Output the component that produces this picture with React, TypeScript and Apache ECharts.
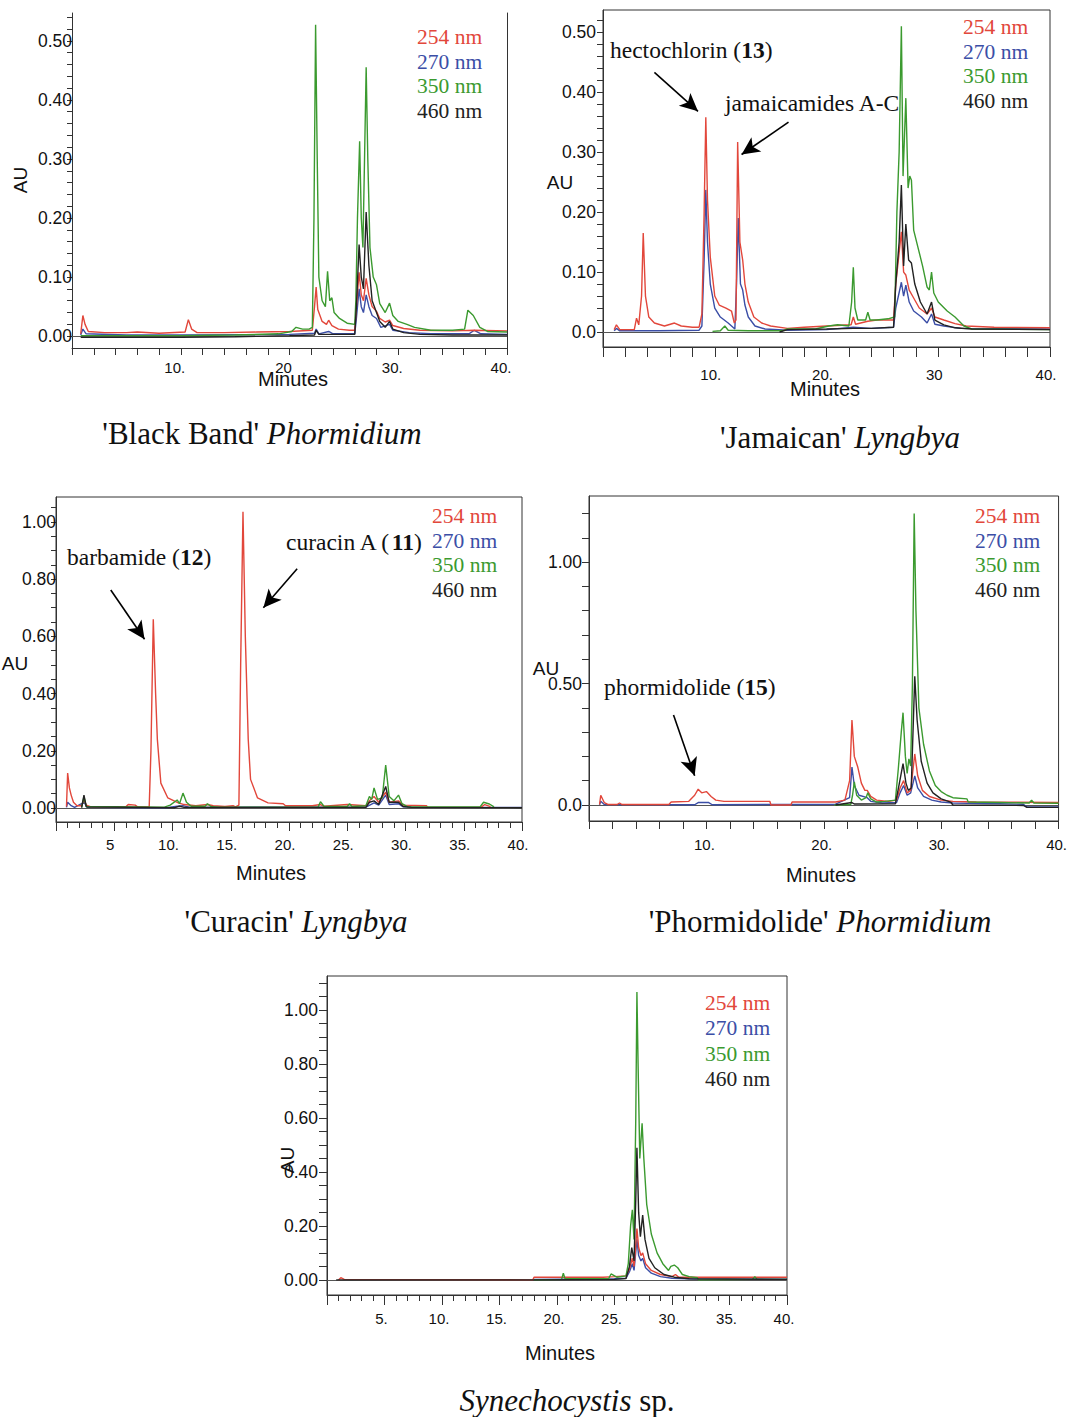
import React, { useEffect, useRef } from "react";
import * as echarts from "echarts";

// ---------- data (minutes, AU) ----------
const WAVELENGTHS = ["254 nm", "270 nm", "350 nm", "460 nm"];
const TRACE_COLORS = ["#e2473b", "#3b4ea6", "#3b9a2f", "#222222"];

// 'Black Band' Phormidium
const bb254 = [[0.8,0.004],[1.0,0.035],[1.2,0.02],[1.5,0.008],[3,0.006],[5,0.006],[6,0.007],[8,0.005],[10.4,0.007],[10.7,0.028],[11.0,0.012],[11.5,0.006],[14,0.006],[17,0.007],[20,0.008],[22.1,0.01],[22.3,0.05],[22.45,0.083],[22.6,0.045],[23,0.025],[23.4,0.02],[23.6,0.027],[23.9,0.018],[24.5,0.012],[25.5,0.01],[26.0,0.01],[26.15,0.05],[26.4,0.108],[26.6,0.07],[26.8,0.06],[27.05,0.098],[27.3,0.07],[27.6,0.05],[28.0,0.042],[28.3,0.03],[28.8,0.024],[29.2,0.027],[29.5,0.018],[30.5,0.013],[32,0.01],[35,0.009],[37,0.01],[40,0.009]];
const bb270 = [[0.8,0.002],[1.0,0.012],[1.3,0.004],[5,0.002],[10,0.002],[20,0.003],[22.3,0.005],[22.45,0.012],[22.7,0.004],[23.6,0.008],[24,0.004],[26.0,0.004],[26.15,0.03],[26.4,0.08],[26.6,0.05],[26.8,0.04],[27.05,0.07],[27.3,0.05],[27.6,0.035],[28.0,0.03],[28.4,0.015],[29.2,0.02],[29.5,0.01],[31,0.006],[33,0.004],[36.5,0.004],[37,0.01],[37.6,0.004],[40,0.003]];
const bb350 = [[0.8,0.001],[5,0.001],[10,0.001],[15,0.002],[19,0.004],[20.2,0.008],[20.6,0.015],[21.2,0.012],[21.8,0.012],[22.1,0.015],[22.25,0.2],[22.4,0.527],[22.55,0.3],[22.7,0.1],[23.0,0.06],[23.3,0.05],[23.5,0.11],[23.7,0.06],[23.9,0.065],[24.1,0.04],[24.6,0.03],[25.3,0.022],[26.0,0.02],[26.1,0.06],[26.25,0.2],[26.45,0.33],[26.6,0.2],[26.75,0.15],[26.9,0.3],[27.05,0.455],[27.2,0.3],[27.4,0.15],[27.7,0.1],[28.0,0.087],[28.3,0.055],[28.8,0.04],[29.2,0.056],[29.5,0.035],[30,0.025],[30.8,0.02],[31.5,0.015],[33,0.01],[35,0.01],[36.1,0.012],[36.4,0.044],[36.9,0.035],[37.5,0.015],[38.2,0.008],[40,0.007]];
const bb460 = [[0.8,-0.002],[5,-0.002],[10,-0.002],[15,-0.001],[20,0.001],[22.3,0.002],[22.45,0.01],[22.7,0.003],[26.0,0.003],[26.15,0.05],[26.4,0.155],[26.6,0.1],[26.8,0.08],[27.05,0.21],[27.3,0.12],[27.6,0.06],[28.0,0.04],[28.3,0.025],[28.8,0.015],[29.2,0.025],[29.5,0.012],[30.5,0.006],[32,0.003],[35,0.002],[40,0.002]];

// 'Jamaican' Lyngbya
const jm254 = [[1.0,0.004],[1.2,0.012],[1.5,0.004],[2.8,0.004],[3.0,0.023],[3.2,0.012],[3.45,0.06],[3.6,0.165],[3.8,0.06],[4.1,0.025],[4.6,0.015],[5.5,0.01],[6.4,0.015],[7,0.01],[8,0.008],[8.6,0.008],[8.85,0.03],[9.05,0.2],[9.2,0.358],[9.35,0.22],[9.6,0.125],[10,0.06],[10.4,0.045],[11,0.04],[11.5,0.035],[11.75,0.015],[11.9,0.02],[12.05,0.317],[12.25,0.15],[12.5,0.12],[12.7,0.08],[13,0.05],[13.5,0.025],[14.2,0.015],[15,0.01],[16.5,0.006],[18,0.008],[20,0.01],[22.2,0.012],[22.4,0.025],[22.6,0.013],[23.7,0.018],[24.5,0.02],[26.0,0.02],[26.2,0.08],[26.7,0.167],[26.9,0.1],[27.1,0.095],[27.4,0.07],[27.7,0.06],[28.3,0.04],[29.0,0.03],[29.4,0.04],[29.7,0.025],[30.5,0.02],[31.5,0.014],[32.5,0.01],[35,0.008],[40,0.007]];
const jm270 = [[1.0,0.002],[1.2,0.006],[1.5,0.002],[5,0.002],[8.6,0.003],[8.85,0.01],[9.05,0.12],[9.2,0.237],[9.35,0.15],[9.6,0.08],[10,0.04],[10.5,0.025],[11.2,0.015],[11.8,0.005],[11.95,0.08],[12.1,0.19],[12.3,0.08],[12.5,0.07],[12.7,0.045],[13,0.025],[13.6,0.01],[14.5,0.005],[16.5,0.003],[20,0.004],[22.4,0.008],[24,0.006],[26,0.008],[26.2,0.04],[26.7,0.083],[26.9,0.06],[27.1,0.078],[27.4,0.05],[27.8,0.035],[28.5,0.025],[29.0,0.015],[29.4,0.03],[29.7,0.013],[30.5,0.01],[32,0.006],[40,0.005]];
const jm350 = [[9.8,0.001],[10.5,0.002],[10.9,0.01],[11.2,0.003],[13,0.002],[16,0.002],[16.5,0.005],[19,0.005],[20.2,0.01],[21,0.012],[22.0,0.01],[22.25,0.05],[22.4,0.108],[22.55,0.04],[22.8,0.02],[23.5,0.02],[23.7,0.033],[23.9,0.02],[24.5,0.02],[25.5,0.022],[26.1,0.025],[26.3,0.2],[26.5,0.3],[26.7,0.51],[26.85,0.26],[27.1,0.39],[27.3,0.24],[27.45,0.26],[27.6,0.253],[27.8,0.17],[28.2,0.14],[28.6,0.11],[29.0,0.075],[29.2,0.07],[29.4,0.1],[29.6,0.065],[30,0.05],[30.8,0.035],[31.5,0.025],[32.3,0.01],[33,0.005],[40,0.004]];
const jm460 = [[15.8,0.0],[16.5,0.004],[20,0.005],[22.4,0.006],[24,0.006],[26,0.008],[26.2,0.08],[26.5,0.15],[26.7,0.245],[26.9,0.11],[27.1,0.18],[27.35,0.12],[27.6,0.115],[27.9,0.08],[28.4,0.05],[29.0,0.03],[29.4,0.05],[29.7,0.02],[30.5,0.012],[31.5,0.007],[33,0.005],[40,0.004]];

// 'Curacin' Lyngbya
const cu254 = [[0.9,0.005],[1.0,0.122],[1.15,0.07],[1.3,0.045],[1.5,0.02],[1.8,0.008],[2.2,0.008],[2.4,0.03],[2.6,0.01],[3.0,0.004],[6.0,0.004],[6.2,0.012],[6.8,0.01],[7.0,0.004],[8.0,0.004],[8.15,0.2],[8.35,0.66],[8.55,0.4],[8.7,0.24],[9.0,0.087],[9.6,0.035],[10.5,0.018],[11,0.012],[12,0.008],[13,0.012],[13.5,0.008],[14.5,0.005],[15.2,0.008],[15.4,0.004],[15.7,0.01],[15.85,0.5],[16.05,1.035],[16.25,0.6],[16.5,0.24],[16.7,0.1],[17.3,0.035],[18.2,0.018],[19.5,0.015],[19.7,0.008],[22,0.008],[22.7,0.012],[23,0.006],[25,0.012],[26.6,0.008],[26.9,0.025],[27.3,0.04],[27.7,0.02],[28.3,0.055],[28.6,0.02],[29.4,0.025],[29.8,0.01],[31.8,0.008],[31.9,0.002],[36.5,0.003],[36.8,0.012],[37.3,0.005]];
const cu270 = [[0.9,0.002],[1.0,0.02],[1.3,0.008],[1.6,0.002],[2.4,0.02],[2.7,0.002],[9.5,0.001],[10.4,0.006],[10.9,0.008],[11.5,0.002],[26.6,0.003],[27.3,0.018],[27.7,0.01],[28.3,0.045],[28.6,0.012],[29.4,0.015],[29.8,0.004],[32,0.002],[40,0.002]];
const cu350 = [[2.2,0.002],[2.4,0.04],[2.6,0.005],[9.3,0.003],[9.8,0.01],[10.4,0.028],[10.6,0.015],[10.9,0.052],[11.2,0.02],[11.6,0.006],[12.8,0.006],[13.0,0.015],[13.3,0.005],[14,0.003],[22.5,0.003],[22.7,0.022],[23.0,0.006],[25.0,0.005],[25.2,0.015],[25.4,0.005],[26.6,0.008],[26.9,0.04],[27.1,0.03],[27.3,0.07],[27.6,0.03],[28.0,0.035],[28.3,0.15],[28.6,0.04],[29.0,0.025],[29.4,0.045],[29.7,0.015],[30.2,0.004],[36.4,0.004],[36.7,0.02],[37.2,0.014],[37.6,0.004]];
const cu460 = [[2.2,0.001],[2.4,0.045],[2.6,0.004],[10.2,0.001],[10.6,0.006],[11,0.002],[26.6,0.002],[26.9,0.02],[27.3,0.025],[27.7,0.012],[28.3,0.075],[28.6,0.02],[29.4,0.02],[29.8,0.005],[30.5,0.002],[40,0.001]];

// 'Phormidolide' Phormidium
const ph254 = [[0.9,0.002],[1.0,0.04],[1.3,0.01],[1.6,0.002],[2.4,0.002],[2.6,0.008],[2.8,0.002],[6.8,0.002],[7.0,0.012],[8.5,0.015],[9.0,0.04],[9.3,0.065],[9.6,0.05],[10.0,0.055],[10.4,0.035],[10.8,0.02],[11.5,0.015],[15.4,0.015],[15.5,0.0],[17.2,0.0],[17.3,0.012],[21,0.012],[21.8,0.02],[22.2,0.1],[22.4,0.35],[22.6,0.2],[22.9,0.155],[23.2,0.09],[23.5,0.06],[23.7,0.06],[24,0.035],[24.5,0.02],[25.5,0.015],[26.2,0.02],[26.5,0.07],[26.8,0.1],[27.1,0.05],[27.4,0.06],[27.75,0.21],[28,0.12],[28.4,0.06],[29,0.035],[30,0.02],[31,0.015],[33,0.012],[40,0.01]];
const ph270 = [[0.9,0.001],[1.0,0.015],[1.3,0.002],[9.0,0.001],[9.3,0.01],[10.2,0.01],[10.5,0.001],[21,0.003],[22.2,0.03],[22.4,0.156],[22.6,0.08],[23,0.04],[23.7,0.03],[24,0.015],[25,0.008],[26.2,0.01],[26.5,0.05],[26.8,0.08],[27.1,0.04],[27.4,0.05],[27.75,0.12],[28,0.07],[28.5,0.035],[29.2,0.02],[30,0.012],[31,0.008],[35,0.005],[37,0.003],[37.3,-0.008],[40,-0.008]];
const ph350 = [[20.9,0.0],[22.3,0.002],[22.45,0.04],[22.6,0.095],[22.8,0.04],[23.2,0.02],[23.6,0.03],[23.75,0.05],[24,0.025],[24.5,0.012],[25.2,0.015],[26.1,0.02],[26.35,0.15],[26.6,0.3],[26.75,0.38],[26.95,0.2],[27.1,0.13],[27.25,0.19],[27.4,0.16],[27.55,0.5],[27.7,1.2],[27.85,0.8],[28.1,0.4],[28.5,0.25],[29,0.14],[29.5,0.08],[30,0.055],[30.5,0.04],[31,0.03],[32.2,0.025],[32.3,0.012],[35,0.01],[37.5,0.008],[37.7,0.02],[37.9,0.008],[40,0.007]];
const ph460 = [[21,0.0],[22.4,0.01],[22.6,0.004],[26.1,0.005],[26.4,0.08],[26.75,0.17],[27.0,0.09],[27.2,0.06],[27.45,0.07],[27.6,0.3],[27.75,0.53],[27.95,0.35],[28.3,0.18],[28.8,0.09],[29.3,0.05],[30,0.025],[30.8,0.012],[31,0.0],[37,-0.002],[37.3,-0.01],[40,-0.01]];

// Synechocystis sp.
const sy254 = [[1.0,0.0],[1.2,0.008],[1.5,0.002],[17.9,0.0],[18.0,0.01],[24,0.01],[25,0.012],[26.0,0.015],[26.3,0.04],[26.55,0.08],[26.7,0.05],[26.8,0.1],[26.95,0.19],[27.1,0.12],[27.3,0.09],[27.45,0.1],[27.7,0.06],[28.2,0.035],[29,0.02],[30,0.012],[30.3,0.02],[30.6,0.01],[32,0.01],[40,0.01]];
const sy270 = [[18,0.002],[25,0.004],[26.0,0.006],[26.3,0.03],[26.55,0.06],[26.7,0.035],[26.8,0.08],[26.95,0.15],[27.1,0.09],[27.3,0.07],[27.45,0.08],[27.7,0.045],[28.2,0.025],[29,0.012],[30,0.006],[32,0.003],[40,0.003]];
const sy350 = [[18,0.0],[20.4,0.002],[20.55,0.025],[20.7,0.004],[24.5,0.005],[24.7,0.022],[25.2,0.01],[26.0,0.015],[26.2,0.06],[26.4,0.2],[26.55,0.26],[26.7,0.15],[26.85,0.6],[26.95,1.067],[27.05,0.8],[27.2,0.45],[27.4,0.58],[27.55,0.45],[27.8,0.28],[28.2,0.17],[28.7,0.1],[29.2,0.06],[29.7,0.035],[29.9,0.05],[30.2,0.055],[30.5,0.045],[30.9,0.02],[31.5,0.012],[32.2,0.008],[32.3,0.0],[37,0.002],[37.2,0.012],[37.4,0.002],[40,0.002]];
const sy460 = [[0.8,0.0],[18,0.0],[25,0.002],[26.0,0.005],[26.3,0.05],[26.5,0.12],[26.7,0.07],[26.85,0.3],[26.95,0.49],[27.1,0.25],[27.25,0.16],[27.45,0.24],[27.65,0.15],[28,0.08],[28.5,0.045],[29.3,0.02],[30.2,0.01],[31.5,0.004],[40,0.002]];

// tick labels
const bbYLabels = ["0.00", "0.10", "0.20", "0.30", "0.40", "0.50"];
const bbYLabelValues = [0, 0.1, 0.2, 0.3, 0.4, 0.5];
const jmYLabels = ["0.0", "0.10", "0.20", "0.30", "0.40", "0.50"];
const jmYLabelValues = [0, 0.1, 0.2, 0.3, 0.4, 0.5];
const cuYLabels = ["0.00", "0.20", "0.40", "0.60", "0.80", "1.00"];
const cuYLabelValues = [0, 0.2, 0.4, 0.6, 0.8, 1.0];
const phYLabels = ["0.0", "0.50", "1.00"];
const phYLabelValues = [0, 0.5, 1.0];
const syYLabels = ["0.00", "0.20", "0.40", "0.60", "0.80", "1.00"];
const syYLabelValues = [0, 0.2, 0.4, 0.6, 0.8, 1.0];

const bbXLabels = { 10: "10.", 20: "20", 30: "30.", 40: "40." };
const jmXLabels = { 10: "10.", 20: "20.", 30: "30", 40: "40." };
const cuXLabels = { 5: "5", 10: "10.", 15: "15.", 20: "20.", 25: "25.", 30: "30.", 35: "35.", 40: "40." };
const phXLabels = { 10: "10.", 20: "20.", 30: "30.", 40: "40." };
const syXLabels = { 5: "5.", 10: "10.", 15: "15.", 20: "20.", 25: "25.", 30: "30.", 35: "35.", 40: "40." };

// ---------- layout ----------
const SANS = "'Liberation Sans', Arial, sans-serif";
const SERIF = "'Liberation Serif', 'Times New Roman', serif";

function steps(a: number, b: number, s: number) {
  const out: number[] = [];
  for (let i = 0; a + i * s <= b + 1e-9; i++) out.push(+(a + i * s).toFixed(4));
  return out;
}

const panels = [
  {
    traces: [bb254, bb270, bb350, bb460],
    grid: { left: 72, top: 13, width: 435, height: 335 },
    box: false,
    yMin: -0.02, yMax: 0.547, yTicks: steps(0, 0.54, 0.02),
    yLabelValues: bbYLabelValues, yLabels: bbYLabels, yLabelMargin: 0, yTickLen: 5,
    xInterval: 10, xSplit: 5, xLabels: bbXLabels, xTickLen: 7, xMinorLen: 7, xLabelMargin: 12, xShift: 12,
    legend: { x: 417, y: 37, gap: 24.7 },
    auName: { x: 20, y: 180, rotate: true },
    minutes: { x: 293, y: 379 },
    title: { x: 262, y: 433, rich: "{n|'Black Band' }{i|Phormidium}" },
    arrows: [] as number[][][],
    notes: [] as any[],
  },
  {
    traces: [jm254, jm270, jm350, jm460],
    grid: { left: 603, top: 10, width: 447, height: 337 },
    box: true,
    yMin: -0.025, yMax: 0.537, yTicks: steps(0, 0.52, 0.02),
    yLabelValues: jmYLabelValues, yLabels: jmYLabels, yLabelMargin: 7, yTickLen: 6,
    xInterval: 10, xSplit: 5, xLabels: jmXLabels, xTickLen: 10, xMinorLen: 10, xLabelMargin: 20, xShift: 8,
    legend: { x: 963, y: 27, gap: 24.7 },
    auName: { x: 560, y: 182, rotate: false },
    minutes: { x: 825, y: 389 },
    title: { x: 840, y: 437, rich: "{n|'Jamaican' }{i|Lyngbya}" },
    arrows: [
      [[4.6, 0.433], [8.5, 0.368]],
      [[16.6, 0.35], [12.4, 0.296]],
    ],
    notes: [
      { x: 610, y: 50, text: "hectochlorin ({b|13})" },
      { x: 725, y: 103, text: "jamaicamides A-C" },
    ],
  },
  {
    traces: [cu254, cu270, cu350, cu460],
    grid: { left: 56, top: 497, width: 466, height: 325 },
    box: true,
    yMin: -0.049, yMax: 1.087, yTicks: steps(0, 1.05, 0.05),
    yLabelValues: cuYLabelValues, yLabels: cuYLabels, yLabelMargin: 0, yTickLen: 5,
    xInterval: 5, xSplit: 5, xLabels: cuXLabels, xTickLen: 9, xMinorLen: 6, xLabelMargin: 15, xShift: 8,
    legend: { x: 432, y: 516, gap: 24.7 },
    auName: { x: 15, y: 663, rotate: false },
    minutes: { x: 271, y: 873 },
    title: { x: 296, y: 921, rich: "{n|'Curacin' }{i|Lyngbya}" },
    arrows: [
      [[4.7, 0.762], [7.6, 0.59]],
      [[20.7, 0.836], [17.8, 0.7]],
    ],
    notes: [
      { x: 67, y: 557, text: "barbamide ({b|12})" },
      { x: 286, y: 542, text: "curacin A ({b|11})" },
    ],
  },
  {
    traces: [ph254, ph270, ph350, ph460],
    grid: { left: 589, top: 496, width: 473, height: 325 },
    box: true,
    yMin: -0.066, yMax: 1.272, yTicks: steps(0, 1.2, 0.1),
    yLabelValues: phYLabelValues, yLabels: phYLabels, yLabelMargin: 7, yTickLen: 7,
    xInterval: 10, xSplit: 5, xLabels: phXLabels, xTickLen: 8, xMinorLen: 8, xLabelMargin: 16, xShift: 4,
    legend: { x: 975, y: 516, gap: 24.5 },
    auName: { x: 546, y: 668, rotate: false },
    minutes: { x: 821, y: 875 },
    title: { x: 820, y: 921, rich: "{n|'Phormidolide' }{i|Phormidium}" },
    arrows: [[[7.2, 0.37], [9.0, 0.12]]],
    notes: [{ x: 604, y: 687, text: "phormidolide ({b|15})" }],
  },
  {
    traces: [sy254, sy270, sy350, sy460],
    grid: { left: 327, top: 976, width: 460, height: 319 },
    box: true,
    yMin: -0.056, yMax: 1.126, yTicks: steps(0, 1.1, 0.05),
    yLabelValues: syYLabelValues, yLabels: syYLabels, yLabelMargin: 9, yTickLen: 8,
    xInterval: 5, xSplit: 5, xLabels: syXLabels, xTickLen: 10, xMinorLen: 6, xLabelMargin: 16, xShift: 6,
    legend: { x: 705, y: 1003, gap: 25.3 },
    auName: { x: 287, y: 1160, rotate: true },
    minutes: { x: 560, y: 1353 },
    title: { x: 567, y: 1400, rich: "{i|Synechocystis}{n| sp.}" },
    arrows: [] as number[][][],
    notes: [] as any[],
  },
];

const DRAW_ORDER = [1, 0, 2, 3];
const AXIS_COLOR = "#333";
const LABEL_COLOR = "#111";

function buildOption() {
  const grids: any[] = [];
  const xAxes: any[] = [];
  const yAxes: any[] = [];
  const series: any[] = [];
  const graphics: any[] = [];

  panels.forEach((p, i) => {
    grids.push({
      ...p.grid,
      show: p.box,
      borderColor: AXIS_COLOR,
      borderWidth: 1,
      backgroundColor: "transparent",
      containLabel: false,
    });
    xAxes.push({
      gridIndex: i,
      type: "value",
      min: 0,
      max: 40,
      interval: p.xInterval,
      position: "bottom",
      axisLine: { show: true, onZero: false, lineStyle: { color: AXIS_COLOR, width: 1 } },
      axisTick: { show: true, length: p.xTickLen, lineStyle: { color: AXIS_COLOR } },
      minorTick: { show: true, splitNumber: p.xSplit, length: p.xMinorLen, lineStyle: { color: AXIS_COLOR } },
      axisLabel: {
        show: true,
        margin: p.xLabelMargin,
        color: LABEL_COLOR,
        fontFamily: SANS,
        fontSize: 15,
        padding: [0, p.xShift, 0, 0],
        showMinLabel: false,
        formatter: (v: number) => (p.xLabels as any)[Math.round(v)] ?? "",
      },
      splitLine: { show: false },
      minorSplitLine: { show: false },
    });
    yAxes.push({
      gridIndex: i,
      type: "value",
      min: p.yMin,
      max: p.yMax,
      position: "left",
      axisLine: { show: true, onZero: false, lineStyle: { color: AXIS_COLOR, width: 1 } },
      axisTick: { show: true, length: p.yTickLen, customValues: p.yTicks, lineStyle: { color: AXIS_COLOR } },
      axisLabel: {
        show: true,
        customValues: p.yLabelValues,
        margin: p.yLabelMargin,
        color: LABEL_COLOR,
        fontFamily: SANS,
        fontSize: 17.5,
        formatter: (v: number) => {
          const k = p.yLabelValues.findIndex((t) => Math.abs(t - v) < 1e-6);
          return k >= 0 ? p.yLabels[k] : "";
        },
      },
      splitLine: { show: false },
    });

    DRAW_ORDER.forEach((k, order) => {
      const s: any = {
        type: "line",
        name: `${i}-${WAVELENGTHS[k]}`,
        xAxisIndex: i,
        yAxisIndex: i,
        data: p.traces[k],
        showSymbol: false,
        symbol: "none",
        lineStyle: { color: TRACE_COLORS[k], width: 1.4 },
        itemStyle: { color: TRACE_COLORS[k] },
        z: 3 + order,
        silent: true,
        clip: true,
      };
      if (order === 0) {
        s.markLine = {
          silent: true,
          symbol: "none",
          animation: false,
          label: { show: false },
          lineStyle: { color: "#555", width: 1, type: "solid" },
          data: [{ yAxis: 0 }],
          z: 2,
        };
      }
      if (order === 3 && p.arrows.length) {
        s.markLine = {
          silent: true,
          symbol: ["none", "arrow"],
          symbolSize: [13, 18],
          animation: false,
          label: { show: false },
          lineStyle: { color: "#000", width: 1.6, type: "solid" },
          itemStyle: { color: "#000" },
          data: p.arrows.map((a) => [{ coord: a[0] }, { coord: a[1] }]),
        };
      }
      series.push(s);
    });

    // legend texts
    WAVELENGTHS.forEach((w, k) => {
      graphics.push({
        type: "text",
        x: p.legend.x,
        y: p.legend.y + k * p.legend.gap,
        style: {
          text: w,
          fill: TRACE_COLORS[k],
          font: `21.5px ${SERIF}`,
          textAlign: "left",
          textVerticalAlign: "middle",
        },
        z: 50,
      });
    });

    // AU
    graphics.push({
      type: "text",
      x: p.auName.x,
      y: p.auName.y,
      rotation: p.auName.rotate ? Math.PI / 2 : 0,
      style: {
        text: "AU",
        fill: LABEL_COLOR,
        font: `19px ${SANS}`,
        textAlign: "center",
        textVerticalAlign: "middle",
      },
      z: 50,
    });
    // Minutes
    graphics.push({
      type: "text",
      x: p.minutes.x,
      y: p.minutes.y,
      style: {
        text: "Minutes",
        fill: LABEL_COLOR,
        font: `20px ${SANS}`,
        textAlign: "center",
        textVerticalAlign: "middle",
      },
      z: 50,
    });
    // title
    graphics.push({
      type: "text",
      x: p.title.x,
      y: p.title.y,
      style: {
        text: p.title.rich,
        fill: "#111",
        textAlign: "center",
        textVerticalAlign: "middle",
        rich: {
          n: { fontFamily: SERIF, fontSize: 31, fill: "#111", fontStyle: "normal" },
          i: { fontFamily: SERIF, fontSize: 31, fill: "#111", fontStyle: "italic" },
        },
      },
      z: 50,
    });
    // notes
    p.notes.forEach((n: any) => {
      graphics.push({
        type: "text",
        x: n.x,
        y: n.y,
        style: {
          text: n.text,
          fill: "#111",
          font: `23.5px ${SERIF}`,
          textAlign: "left",
          textVerticalAlign: "middle",
          rich: {
            b: { fontFamily: SERIF, fontSize: 23.5, fontWeight: "bold", fill: "#111" },
          },
        },
        z: 50,
      });
    });
  });

  // right border for the first panel
  yAxes.push({
    gridIndex: 0,
    type: "value",
    min: panels[0].yMin,
    max: panels[0].yMax,
    position: "right",
    axisLine: { show: true, onZero: false, lineStyle: { color: AXIS_COLOR, width: 1 } },
    axisTick: { show: false },
    axisLabel: { show: false },
    splitLine: { show: false },
  });

  return {
    animation: false,
    backgroundColor: "#ffffff",
    grid: grids,
    xAxis: xAxes,
    yAxis: yAxes,
    series,
    graphic: { elements: graphics },
  };
}

export default function App() {
  const ref = useRef<HTMLDivElement>(null);
  useEffect(() => {
    if (!ref.current) return;
    const chart = echarts.init(ref.current, undefined, { renderer: "svg" });
    chart.setOption(buildOption() as any);
    return () => chart.dispose();
  }, []);
  return (
    <div
      ref={ref}
      style={{ position: "absolute", left: 0, top: 0, width: 1070, height: 1417, background: "#fff" }}
    />
  );
}
